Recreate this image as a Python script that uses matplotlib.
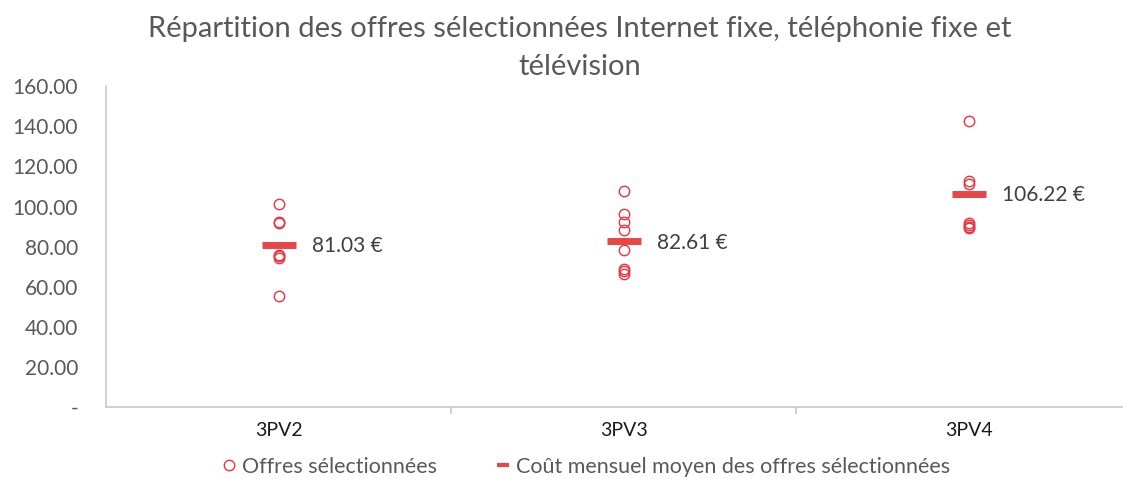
import matplotlib.pyplot as plt
from matplotlib.lines import Line2D
from matplotlib.ticker import FuncFormatter

# Offers per category
categories = ["3PV2", "3PV3", "3PV4"]
offres_3pv2 = [101.3, 92.3, 91.9, 76.0, 75.4, 74.5, 55.6]
offres_3pv3 = [107.8, 96.5, 92.4, 88.2, 78.3, 69.1, 67.8, 66.6]
offres_3pv4 = [142.7, 112.7, 111.5, 92.0, 91.0, 90.0, 89.3]
moyennes = [81.03, 82.61, 106.22]

offres = [offres_3pv2, offres_3pv3, offres_3pv4]

plt.rcParams['font.family'] = ['Lato', 'DejaVu Sans']

fig = plt.figure(figsize=(11.23, 4.79), dpi=100)
ax = fig.add_axes([0.0944, 0.150, 0.922, 0.670])

circle_color = '#EE3340'
bar_color = '#E84646'

for i, vals in enumerate(offres):
    ax.plot([i] * len(vals), vals, linestyle='none', marker='o', markersize=7.5,
            markerfacecolor='none', markeredgecolor=circle_color, markeredgewidth=1.0)

ax.plot(range(len(moyennes)), moyennes, linestyle='none', marker='_',
        markersize=25, markeredgewidth=5, color=bar_color)

for i, m in enumerate(moyennes):
    ax.annotate(f"{m:.2f} €", (i, m), xytext=(24, -1), textcoords='offset points',
                va='center', ha='left', fontsize=15, color='#404040')

ax.set_xlim(-0.5, 2.5)
ax.set_ylim(0, 160)
ax.set_yticks(range(0, 161, 20))
ax.yaxis.set_major_formatter(FuncFormatter(lambda v, p: "-" if v == 0 else f"{v:.2f}"))
ax.set_xticks(range(len(categories)))
ax.set_xticklabels(categories)
ax.set_xticks([0.5, 1.5], minor=True)

for side in ['top', 'right']:
    ax.spines[side].set_visible(False)
for side in ['left', 'bottom']:
    ax.spines[side].set_color('#C8C8C8')
    ax.spines[side].set_linewidth(1.2)

ax.tick_params(axis='y', length=0, labelsize=15, labelcolor='#595959', pad=20)
ax.tick_params(axis='x', which='major', length=0, labelsize=14, labelcolor='#1A1A1A', pad=11)
ax.tick_params(axis='x', which='minor', length=5, color='#C8C8C8', width=1.2, direction='out')

fig.text(0.516, 0.90, "Répartition des offres sélectionnées Internet fixe, téléphonie fixe et\ntélévision",
         ha='center', va='center', fontsize=21, color='#595959', linespacing=1.55)

handles = [
    Line2D([0], [0], linestyle='none', marker='o', markersize=7.5, markerfacecolor='none',
           markeredgecolor=circle_color, markeredgewidth=1.0),
    Line2D([0], [0], linestyle='none', marker='_', markersize=9, markeredgewidth=3,
           color=bar_color),
]
fig.legend(handles, ["Offres sélectionnées", "Coût mensuel moyen des offres sélectionnées"],
           loc='center', bbox_to_anchor=(0.522, 0.025), ncol=2, frameon=False,
           fontsize=15.5, labelcolor='#595959', handlelength=0.6, handletextpad=0.3,
           columnspacing=2.8)

fig.savefig("out.png", dpi=100)
plt.close(fig)
